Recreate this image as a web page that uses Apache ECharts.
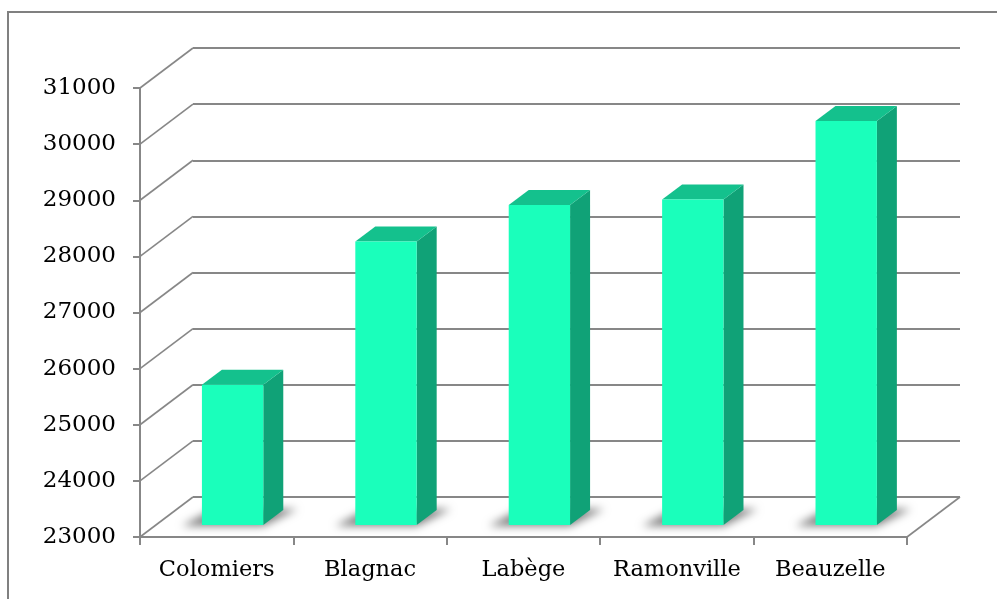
<!DOCTYPE html>
<html>
<head>
<meta charset="utf-8">
<script src="https://cdn.jsdelivr.net/npm/echarts@6/dist/echarts.min.js"></script>
<style>html,body{margin:0;padding:0;background:#fff;}#c{width:997px;height:599px;}</style>
</head>
<body>
<div id="c"></div>
<script>
const categories = ['Colomiers', 'Blagnac', 'Labège', 'Ramonville', 'Beauzelle'];
const values = [25500, 28050, 28700, 28800, 30200];
const yTicks = [23000, 24000, 25000, 26000, 27000, 28000, 29000, 30000, 31000];

const FONT = 'DejaVu Serif';
const GRAY = '#878787';
const DEPTH_X = 53, DEPTH_Y = -40;      // wall depth offset
const BAR_F = 0.3;                      // bar front position in depth
const BAR_DX = 20, BAR_DY = -15;        // bar depth
const C_FRONT = '#1affbb', C_TOP = '#14c18d', C_SIDE = '#10a277';
const SH = 3000;                        // off-canvas shift for shadow-only shapes

const chart = echarts.init(document.getElementById('c'), null, {renderer: 'canvas'});

const option = {
  animation: false,
  backgroundColor: '#fff',
  graphic: [{
    type: 'rect', z: -10, silent: true,
    shape: {x: 8, y: 12, width: 1200, height: 800},
    style: {fill: 'none', stroke: '#808080', lineWidth: 2}
  }],
  grid: [
    {left: 140, top: 88, width: 767, height: 449},
    {left: 140 + DEPTH_X, top: 88 + DEPTH_Y, width: 767, height: 449}
  ],
  xAxis: [{
    type: 'category', gridIndex: 0, data: categories,
    axisLine: {show: true, lineStyle: {color: GRAY, width: 2}},
    axisTick: {show: true, interval: 0, length: 8, lineStyle: {color: GRAY, width: 2}},
    axisLabel: {interval: 0, fontFamily: FONT, fontSize: 22.5, color: '#000', margin: 22},
    splitLine: {show: false}
  }, {
    type: 'category', gridIndex: 1, data: categories, show: false
  }],
  yAxis: [{
    type: 'value', gridIndex: 0, min: 23000, max: 31000, interval: 1000,
    axisLine: {show: true, lineStyle: {color: GRAY, width: 2}},
    axisTick: {show: true, length: 7, lineStyle: {color: GRAY, width: 2}},
    axisLabel: {fontFamily: FONT, fontSize: 23, color: '#000', margin: 24,
      formatter: function (v) { return String(v); }},
    splitLine: {show: false}
  }, {
    type: 'value', gridIndex: 1, min: 23000, max: 31000, interval: 1000,
    axisLine: {show: false}, axisTick: {show: false}, axisLabel: {show: false},
    splitLine: {show: true, lineStyle: {color: GRAY, width: 2}}
  }],
  series: [{
    type: 'custom', xAxisIndex: 0, yAxisIndex: 0, z: 1, silent: true,
    data: yTicks.map(v => [0, v]),
    renderItem: function (params, api) {
      const p = api.coord([0, api.value(1)]);
      const x0 = params.coordSys.x;
      return {
        type: 'line',
        shape: {x1: x0, y1: p[1], x2: x0 + DEPTH_X, y2: p[1] + DEPTH_Y},
        style: {stroke: GRAY, lineWidth: 1.6}
      };
    }
  }, {
    type: 'custom', xAxisIndex: 0, yAxisIndex: 0, z: 1, silent: true,
    data: [[categories.length - 1, yTicks[0]]],
    renderItem: function (params, api) {
      const p = api.coord([api.value(0), api.value(1)]);
      const x1 = params.coordSys.x + params.coordSys.width;
      return {
        type: 'line',
        shape: {x1: x1, y1: p[1], x2: x1 + DEPTH_X, y2: p[1] + DEPTH_Y},
        style: {stroke: GRAY, lineWidth: 1.6}
      };
    }
  }, {
    type: 'custom', xAxisIndex: 0, yAxisIndex: 0, z: 5, silent: true,
    data: values.map((v, i) => [i, v]),
    renderItem: function (params, api) {
      const idx = api.value(0), v = api.value(1);
      const c = api.coord([idx, v]);
      const b = api.coord([idx, yTicks[0]]);
      const bw = api.size([1, 0])[0] * 0.4;
      const fx = BAR_F * DEPTH_X, fy = BAR_F * DEPTH_Y;
      const l = c[0] - bw / 2 + fx, r = l + bw;
      const t = c[1] + fy, bt = b[1] + fy;
      return {
        type: 'group',
        children: [{
          type: 'polygon',
          shape: {points: [[l - 20 - SH, bt + 1], [r - SH, bt + 1], [r + BAR_DX + 14 - SH, bt + BAR_DY - 1], [l + BAR_DX - 8 - SH, bt + BAR_DY - 1]]},
          style: {fill: '#000', shadowBlur: 9, shadowOffsetX: SH, shadowOffsetY: 0, shadowColor: 'rgba(0,0,0,0.5)'}
        }, {
          type: 'polygon',
          shape: {points: [[r, t], [r + BAR_DX, t + BAR_DY], [r + BAR_DX, bt + BAR_DY], [r, bt]]},
          style: {fill: C_SIDE}
        }, {
          type: 'polygon',
          shape: {points: [[l, t], [l + BAR_DX, t + BAR_DY], [r + BAR_DX, t + BAR_DY], [r, t]]},
          style: {fill: C_TOP}
        }, {
          type: 'rect',
          shape: {x: l, y: t, width: bw, height: bt - t},
          style: {fill: C_FRONT}
        }]
      };
    }
  }]
};
chart.setOption(option);
</script>
</body>
</html>
